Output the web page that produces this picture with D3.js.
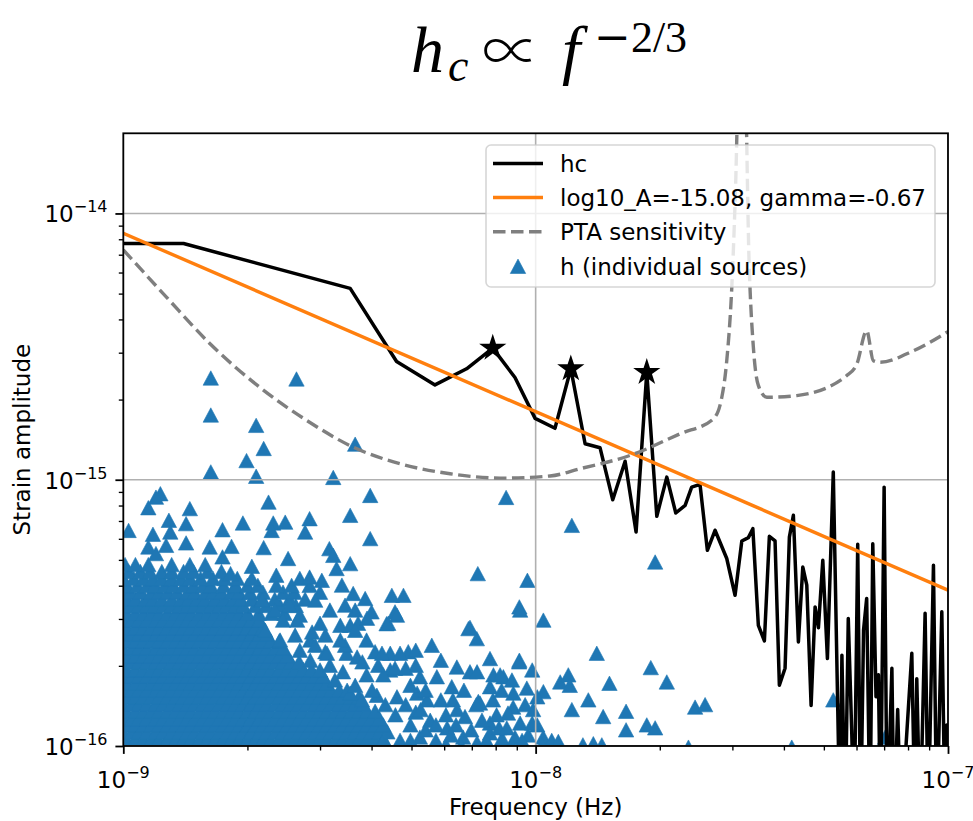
<!DOCTYPE html>
<html>
<head>
<meta charset="utf-8">
<script src="https://cdn.jsdelivr.net/npm/d3@7"></script>
<style>
  body { margin: 0; background: #fff; }
  svg { display: block; }
  text { font-family: "DejaVu Sans", sans-serif; fill: #000; }
</style>
</head>
<body>
<svg id="chart" width="973" height="821"></svg>
<script>
// ---- units used in the tables below ----
const NHZ = 1e-9;    // frequencies are given in nHz
const U16 = 1e-16;   // strains are given in units of 1e-16

// ---- axis ticks ----
const xTickExp = [-9, -8, -7];
const yTickExp = [-16, -15, -14];

// ---- characteristic strain hc: [frequency nHz, strain 1e-16] ----
const hcSeries = [
  [1.0,77.1],[1.40,77.1],[3.55,52.3],[4.60,27.8],[5.70,22.7],[6.80,26.1],[7.87,31.2],[8.91,24.2],
  [9.97,17.0],[11.14,15.6],[12.17,26.1],[13.18,13.65],[14.33,13.18],[15.38,8.41],[16.48,11.74],
  [17.52,6.36],[18.6,25.3],[19.67,7.29],[20.8,10.23],[21.87,7.50],[23.04,8.01],[23.9,9.38],
  [25.04,9.60],[26.09,5.43],[27.23,6.46],[29.07,5.06],[30.45,3.68],[31.62,5.89],[32.8,6.06],
  [33.63,6.55],[34.68,2.84],[35.87,2.48],[36.88,6.13],[38.07,5.89],[39.0,1.69],[40.26,1.96],
  [41.24,6.09],[42.17,7.35],[43.37,2.46],[44.45,4.70],[45.45,4.02],[46.56,1.42],[47.61,3.33],
  [48.5,2.78],[49.7,4.98],[51.0,2.13],[52.7,10.68],[54.7,0.5],[55.3,2.19],[56.3,0.5],[57.3,3.01],
  [58.4,1.15],[59.2,0.5],[60.4,5.72],[61.4,0.5],[62.4,2.72],[63.5,3.58],[64.7,0.5],[65.7,5.75],
  [66.9,1.53],[67.8,1.85],[68.6,0.5],[70.0,9.38],[71.2,0.5],[73.1,1.96],[74.0,0.5],[75.5,1.37],
  [76.9,0.5],[81.7,2.23],[83.2,0.5],[84.0,1.79],[85.6,0.5],[88.0,3.15],[89.6,0.5],[90.5,1.15],
  [92.2,4.77],[93.9,0.5],[96.6,3.19],[98.4,0.5],[99.3,1.20],[101,0.5]
];

// ---- loudest bins, marked with stars ----
const starFreq = [7.87, 12.17, 18.6];
const starStrain = [31.2, 26.1, 25.3];

// ---- PTA sensitivity curve: [frequency nHz, strain 1e-16] ----
const ptaSeries = [
  [1.0,73],[1.274,48.4],[1.623,32.4],[2.146,22.2],[2.785,16.7],[3.613,13.25],[4.69,11.48],
  [6.2,10.53],[8.2,10.14],[10.84,10.33],[12.82,11.0],[16.94,12.34],[22.4,14.88],[26.98,16.93],
  [28.28,20.4],[29.07,28.0],[29.9,52.8],[30.45,108.7],[31.7,1000],[32.98,60.9],[33.73,31.4],
  [34.68,22.6],[36.36,20.4],[42.97,20.7],[56.8,24.6],[60.1,27.2],[63.5,36.3],[65.9,28.0],
  [68.4,27.6],[82.4,30.5],[100,36.0]
];

// ---- power-law fit, as quoted in the legend ----
const fitLog10A = -15.08;
const fitGamma = -0.67;
const fitRange = [1e-9, 1e-7];

// ---- individual sources, crowded low-frequency region: [strain 1e-16, [frequencies nHz]] ----
const denseRows = [
  [1.0,  [1,1.05,1.09,1.14,1.2,1.25,1.31,1.37,1.43,1.49,1.56,1.63,1.71,1.79,1.87,1.95,2.04,2.14,2.23,2.34,2.44,2.55,2.67,2.79,2.92,3.05,3.19,3.34,3.49,3.65,3.82,3.99,4.18,4.37]],
  [1.06, [1.02,1.07,1.12,1.17,1.22,1.28,1.34,1.4,1.46,1.53,1.6,1.67,1.75,1.83,1.91,2,2.09,2.18,2.28,2.39,2.5,2.61,2.73,2.86,2.99,3.12,3.27,3.41,3.57,3.73,3.9,4.08,4.27]],
  [1.13, [1,1.05,1.09,1.14,1.2,1.25,1.31,1.37,1.43,1.49,1.56,1.63,1.71,1.79,1.87,1.95,2.04,2.14,2.23,2.34,2.44,2.55,2.67,2.79,2.92,3.05,3.19,3.34,3.49,3.65,3.82,3.99,4.18,4.37]],
  [1.2,  [1.02,1.07,1.12,1.17,1.22,1.28,1.34,1.4,1.46,1.53,1.6,1.67,1.75,1.83,1.91,2,2.09,2.18,2.28,2.39,2.5,2.61,2.73,2.86,2.99,3.12,3.27,3.41,3.57,3.73,3.9,4.08,4.27]],
  [1.27, [1,1.05,1.09,1.14,1.2,1.25,1.31,1.37,1.43,1.49,1.56,1.63,1.71,1.79,1.87,1.95,2.04,2.14,2.23,2.34,2.44,2.55,2.67,2.79,2.92,3.05,3.19,3.34,3.49,3.65,3.82,3.99,4.18]],
  [1.35, [1.02,1.07,1.12,1.17,1.22,1.28,1.34,1.4,1.46,1.53,1.6,1.67,1.75,1.83,1.91,2,2.09,2.18,2.28,2.39,2.5,2.61,2.73,2.86,2.99,3.12,3.27,3.41,3.57,3.73,3.9,4.08]],
  [1.44, [1,1.05,1.09,1.14,1.2,1.25,1.31,1.37,1.43,1.49,1.56,1.63,1.71,1.79,1.87,1.95,2.04,2.14,2.23,2.34,2.44,2.55,2.67,2.79,2.92,3.05,3.19,3.34,3.49,3.65,3.82]],
  [1.53, [1.02,1.07,1.12,1.17,1.22,1.28,1.34,1.4,1.46,1.53,1.6,1.67,1.75,1.83,1.91,2,2.09,2.18,2.28,2.39,2.5,2.61,2.73,2.86,2.99,3.12,3.27,3.41,3.57,3.73]],
  [1.62, [1,1.05,1.09,1.14,1.2,1.25,1.31,1.37,1.43,1.49,1.56,1.63,1.71,1.79,1.87,1.95,2.04,2.14,2.23,2.34,2.44,2.55,2.67,2.79,2.92,3.05,3.19,3.34,3.49]],
  [1.72, [1.02,1.07,1.12,1.17,1.22,1.28,1.34,1.4,1.46,1.53,1.6,1.67,1.75,1.83,1.91,2,2.09,2.18,2.28,2.39,2.5,2.61,2.73,2.86,2.99,3.12]],
  [1.83, [1,1.05,1.09,1.14,1.2,1.25,1.31,1.37,1.43,1.49,1.56,1.63,1.71,1.79,1.87,1.95,2.04,2.14,2.23,2.34,2.44,2.55,2.67,2.79,2.92,3.05]],
  [1.94, [1.02,1.07,1.12,1.17,1.22,1.28,1.34,1.4,1.46,1.53,1.6,1.67,1.75,1.83,1.91,2,2.09,2.18,2.28,2.39,2.5,2.61,2.73,2.86]],
  [2.07, [1,1.05,1.09,1.14,1.2,1.25,1.31,1.37,1.43,1.49,1.56,1.63,1.71,1.79,1.87,1.95,2.04,2.14,2.23,2.34,2.44,2.55,2.67]],
  [2.19, [1.02,1.07,1.12,1.17,1.22,1.28,1.34,1.4,1.46,1.53,1.6,1.67,1.75,1.83,1.91,2,2.09,2.18,2.28,2.39,2.5]],
  [2.33, [1,1.05,1.09,1.14,1.2,1.25,1.31,1.37,1.43,1.49,1.56,1.63,1.71,1.79,1.87,1.95,2.04,2.14,2.23,2.34,2.44]],
  [2.48, [1.02,1.07,1.12,1.17,1.22,1.28,1.34,1.4,1.46,1.53,1.6,1.67,1.75,1.83,1.91,2,2.09,2.18,2.28,2.39]],
  [2.63, [1,1.05,1.09,1.14,1.2,1.25,1.31,1.37,1.43,1.49,1.56,1.63,1.71,1.79,1.87,1.95,2.04,2.14,2.23]],
  [2.79, [1.02,1.07,1.12,1.17,1.22,1.28,1.34,1.4,1.46,1.53,1.6,1.67,1.75,1.83,1.91,2,2.09,2.18]],
  [2.97, [1,1.05,1.09,1.14,1.2,1.25,1.31,1.37,1.43,1.49,1.56,1.63,1.71,1.79,1.87,1.95,2.04,2.14]],
  [3.15, [1.02,1.07,1.12,1.17,1.22,1.28,1.34,1.4,1.46,1.53,1.6,1.67,1.75,1.83,1.91,2,2.13,2.29,2.46]],
  [3.37, [1,1.04,1.09,1.14,1.19,1.25,1.31,1.37,1.43,1.49,1.56,1.63,1.71,1.78,1.87,1.95,2.09,2.22,2.4,2.62]],
  [3.56, [1.02,1.07,1.13,1.18,1.24,1.31,1.38,1.44,1.51,1.58,1.67,1.76,1.85,1.93,2.05,2.17,2.33,2.53,2.76]],
  [3.78, [1,1.04,1.1,1.17,1.22,1.28,1.35,1.43,1.49,1.58,1.65,1.73,1.83,1.91,2.03,2.18,2.44,2.6,3.0]],
  [4.01, [1.02,1.08,1.14,1.19,1.26,1.32,1.4,1.48,1.56,1.63,1.75,1.87,2,2.12,2.35,2.56,2.83]],
  [4.26, [1,1.06,1.12,1.18,1.24,1.31,1.38,1.45,1.54,1.65,1.76,1.89,2.05,2.68]],
  [4.52, [1.03,1.1,1.16,1.24,1.31,1.4,1.48,1.6,1.73]],
  [4.8,  [1.01,1.07,1.15,1.31,1.45,1.58]]
];

// ---- individual sources elsewhere: [frequency nHz, strain 1e-16] ----
const singleSources = [
  [1.63,24.1],[2.63,23.9],[1.63,17.5],[2.1,16.0],[2.19,13.1],[1.99,11.8],[1.63,10.7],[2.1,10.3],[3.23,10.2],[3.65,13.6],
  [1.23,8.86],[1.2,8.6],[1.15,7.85],[1.45,7.79],[2.25,8.24],[3.97,8.73],[8.48,8.58],
  [1.03,6.45],[1.29,7.04],[1.42,6.84],[1.74,6.49],[1.95,6.88],[2.31,6.88],[2.47,6.93],[2.83,7.14],[3.55,7.35],
  [1.18,6.24],[1.3,6.36],[2.76,6.36],[2.29,6.45],[3.97,6.01],
  [1.15,5.59],[1.27,5.67],[1.42,5.79],[1.62,5.59],[1.83,5.62],[2.19,5.56],[3.16,5.51],
  [1.2,5.28],[1.74,5.13],[2.51,5.06],[3.23,5.2],[3.55,4.84],[2.05,4.73],[1.82,4.44],[2.35,4.38],[2.83,4.31],
  [3.03,4.19],[3.29,4.64],[3.39,4.02],[3.61,3.74],[4.48,3.68],[4.78,3.68],[7.24,4.44],[9.55,4.19],[9.13,3.33],
  [10.44,2.97],[4.0,3.19],[4.56,3.19],[4.35,2.88],[6.87,2.76],[7.2,2.53],[5.6,2.39],[12.24,6.74],[19.49,4.91],
  [2.17,3.53],[2.33,3.24],[2.53,3.38],[2.68,3.1],[2.92,3.53],[3.17,3.24],[3.36,2.84],[2.84,2.5],[2.4,2.5],
  [2.61,2.61],[3.09,2.61],[3.65,3.24],[3.45,3.38],[3.86,3.58],
  [3.09,2.26],[3.48,2.23],[3.89,2.5],[4.08,2.26],[4.44,2.23],[4.91,2.26],[7.75,2.13],[9.13,2.1],[6.44,1.98],
  [6.93,1.9],[7.9,1.85],[8.35,1.82],[5.24,1.82],[5.76,1.82],[3.89,1.85],[4.44,1.93],[6.26,1.67],[7.75,1.67],
  [9.52,1.65],[7.26,1.47],[8.83,1.58],
  [3.55,2.84],[3.71,2.89],[3.9,3.02],[4.39,2.89],[4.61,3.1],[2.87,2.68],[2.21,2.72],[2.44,2.97],[2.64,2.97],
  [3.0,2.89],[6.93,2.79],[9.17,3.24],[3.12,2.23],[3.69,2.16],[4.24,2.23],[4.69,2.23],[7.21,1.9],[8.2,1.85],
  [9.12,2.07],[3.41,1.9],[4.27,1.85],[4.56,1.96],
  [3.55,1.58],[4.12,1.55],[4.61,1.53],[5.16,1.58],[5.45,1.49],[6.3,1.49],[7.33,1.45],[7.88,1.49],[8.82,1.4],
  [9.43,1.43],[9.86,1.37],[5.55,1.25],[6.45,1.37],[6.74,1.29],[7.75,1.22],[8.57,1.33],[9.17,1.22],[6.1,1.17],
  [6.67,1.08],[7.75,1.12],[8.29,1.07],[8.91,1.08],[9.59,1.1],[10.43,1.08],[5.24,1.08],[4.69,1.05],[4.24,1.03],
  [7.21,1.03],
  [2.84,2.1],[3.0,1.93],[2.68,2.29],[2.92,2.39],[3.17,2.01],[3.26,1.77],[3.65,1.69],[3.79,1.49],[4.01,1.62],
  [4.32,1.43],[4.57,1.31],[4.84,1.43],[4.97,1.2],[5.12,1.34],[5.41,1.15],[5.73,1.05],[6.06,1.01],[6.6,1.0],
  [6.98,1.15],[7.41,1.25],[8.15,1.17],[8.76,1.01],[10.38,1.01],[10.09,1.2],
  [5.41,1.62],[5.89,1.49],[6.06,1.31],[6.41,1.2],[7.18,1.43],[7.6,1.05],[8.04,1.31],[8.51,1.17],[9.27,1.05],
  [8.27,1.62],[8.76,1.77],[9.81,1.93],[6.7,1.62],[5.89,2.1],[5.12,2.01],[4.97,1.69],[5.26,1.37],[5.73,1.2],
  [6.23,1.1],[4.97,1.05],[3.45,2.39],[3.8,2.07],[4.15,2.01],[4.84,1.96],[5.12,2.29],[3.36,2.5],[3.65,2.72],
  [14.07,2.23],[19.02,1.97],[20.8,1.74],[11.47,1.74],[12.0,1.85],[12.1,1.69],[15.1,1.72],[10.44,1.6],[10.09,1.53],
  [13.42,1.49],[12.24,1.37],[14.58,1.29],[16.57,1.35],[24.36,1.4],[25.76,1.43],[18.6,1.2],[19.49,1.17],
  [16.57,1.15],[10.94,1.05],[11.35,1.04],[13.8,1.02],[13.02,1.01],[14.47,1.01],[23.47,0.99],[41.8,0.99],
  [52.7,1.49],[70.4,1.08],[9.81,1.22]
];

// ---- legend entries ----
const legendLabels = ["hc", "log10_A=-15.08, gamma=-0.67", "PTA sensitivity", "h (individual sources)"];

// ---- colours ----
const C = { hc: "#000000", fit: "#ff7f0e", pta: "#7f7f7f", src: "#1f77b4", grid: "#b0b0b0" };

// ================= drawing =================
const plot = { left: 123.3, right: 948, top: 133.3, bottom: 746 };
const x = d3.scaleLog().domain([1e-9, 1e-7]).range([plot.left, plot.right]);
const y = d3.scaleLog().domain([1e-16, 2e-14]).range([plot.bottom, plot.top]);

const svg = d3.select("#chart");
svg.append("rect").attr("width", 973).attr("height", 821).attr("fill", "#fff");

svg.append("defs").append("clipPath").attr("id", "plotClip").append("rect")
  .attr("x", plot.left).attr("y", plot.top)
  .attr("width", plot.right - plot.left).attr("height", plot.bottom - plot.top);

const area = svg.append("g").attr("clip-path", "url(#plotClip)");

// triangle marker centred on its bounding box
const triPath = "M0,-7.2L7.7,7.2L-7.7,7.2Z";

const sources = [];
denseRows.forEach(([h, fs]) => fs.forEach(f => sources.push([f, h])));
singleSources.forEach(p => sources.push(p));

area.append("g").selectAll("path").data(sources).join("path")
  .attr("d", triPath)
  .attr("transform", d => `translate(${x(d[0] * NHZ)},${y(d[1] * U16)})`)
  .attr("fill", C.src)
  .attr("stroke", C.src).attr("stroke-width", 0.6);

// grid on major ticks
const xMajor = xTickExp.map(e => Math.pow(10, e));
const yMajor = yTickExp.map(e => Math.pow(10, e));
const grid = area.append("g").attr("stroke", C.grid).attr("stroke-width", 1.6);
grid.selectAll(".gx").data(xMajor).join("line")
  .attr("x1", d => x(d)).attr("x2", d => x(d)).attr("y1", plot.top).attr("y2", plot.bottom);
grid.selectAll(".gy").data(yMajor).join("line")
  .attr("y1", d => y(d)).attr("y2", d => y(d)).attr("x1", plot.left).attr("x2", plot.right);

// lines
const lineLin = d3.line().x(d => x(d[0] * NHZ)).y(d => y(d[1] * U16));
area.append("path").datum(hcSeries).attr("d", lineLin)
  .attr("fill", "none").attr("stroke", C.hc).attr("stroke-width", 3.5)
  .attr("stroke-linejoin", "round");

const fRef = 1 / (365.25 * 86400);
const fitSeries = fitRange.map(f => [f, Math.pow(10, fitLog10A) * Math.pow(f / fRef, fitGamma)]);
area.append("path").datum(fitSeries)
  .attr("d", d3.line().x(d => x(d[0])).y(d => y(d[1])))
  .attr("fill", "none").attr("stroke", C.fit).attr("stroke-width", 3.4);

area.append("path").datum(ptaSeries)
  .attr("d", d3.line().curve(d3.curveMonotoneX).x(d => x(d[0] * NHZ)).y(d => y(d[1] * U16)))
  .attr("fill", "none").attr("stroke", C.pta).attr("stroke-width", 3.4)
  .attr("stroke-dasharray", "12.5,5.5");

// stars
const star = d3.symbol().type(d3.symbolStar).size(230);
area.append("g").selectAll("path").data(starFreq.map((f, i) => [f, starStrain[i]])).join("path")
  .attr("d", star)
  .attr("transform", d => `translate(${x(d[0] * NHZ)},${y(d[1] * U16)})`)
  .attr("fill", "#000");

// spines
svg.append("rect")
  .attr("x", plot.left).attr("y", plot.top)
  .attr("width", plot.right - plot.left).attr("height", plot.bottom - plot.top)
  .attr("fill", "none").attr("stroke", "#000").attr("stroke-width", 1.8);

// ticks
const minorOf = (lo, hi) => {
  const out = [];
  for (let e = lo; e < hi; e++) for (let k = 2; k <= 9; k++) out.push(k * Math.pow(10, e));
  return out;
};
const xMinor = minorOf(-9, -7);
const yMinor = minorOf(-16, -14);

function styleAxis(g, w) {
  g.select(".domain").remove();
  g.selectAll(".tick line").attr("stroke", "#000").attr("stroke-width", w);
  g.selectAll(".tick text").remove();
}
svg.append("g").attr("transform", `translate(0,${plot.bottom})`)
  .call(d3.axisBottom(x).tickValues(xMajor).tickSize(7.9).tickFormat(""))
  .call(g => styleAxis(g, 1.8));
svg.append("g").attr("transform", `translate(0,${plot.bottom})`)
  .call(d3.axisBottom(x).tickValues(xMinor).tickSize(4.5).tickFormat(""))
  .call(g => styleAxis(g, 1.35));
svg.append("g").attr("transform", `translate(${plot.left},0)`)
  .call(d3.axisLeft(y).tickValues(yMajor).tickSize(7.9).tickFormat(""))
  .call(g => styleAxis(g, 1.8));
svg.append("g").attr("transform", `translate(${plot.left},0)`)
  .call(d3.axisLeft(y).tickValues(yMinor).tickSize(4.5).tickFormat(""))
  .call(g => styleAxis(g, 1.35));

// tick labels: 10 with a superscript exponent
const expText = e => (e < 0 ? "\u2212" : "") + Math.abs(e);
xTickExp.forEach(e => {
  const t = svg.append("text").attr("x", x(Math.pow(10, e))).attr("y", 788)
    .attr("text-anchor", "middle").attr("font-size", 23);
  t.append("tspan").text("10");
  t.append("tspan").attr("dy", -10).attr("font-size", 16).text(expText(e));
});
yTickExp.forEach(e => {
  const t = svg.append("text").attr("x", 107.5).attr("y", y(Math.pow(10, e)) + 9)
    .attr("text-anchor", "end").attr("font-size", 23);
  t.append("tspan").text("10");
  t.append("tspan").attr("dy", -10).attr("font-size", 16).text(expText(e));
});

// axis titles
svg.append("text").attr("x", (plot.left + plot.right) / 2).attr("y", 815)
  .attr("text-anchor", "middle").attr("font-size", 23).text("Frequency (Hz)");
svg.append("text").attr("transform", `translate(30,${(plot.top + plot.bottom) / 2}) rotate(-90)`)
  .attr("text-anchor", "middle").attr("font-size", 23).text("Strain amplitude");

// title: h_c ∝ f^{-2/3}
const title = svg.append("g");
title.append("text").attr("x", 411).attr("y", 72)
  .style("font-family", "'Liberation Serif', serif").style("font-style", "italic")
  .attr("font-size", 66).text("h");
title.append("text").attr("x", 448).attr("y", 81)
  .style("font-family", "'Liberation Serif', serif").style("font-style", "italic")
  .attr("font-size", 46).text("c");
title.append("text").attr("x", 511).attr("y", 72).attr("text-anchor", "middle")
  .style("font-family", "'Noto Sans CJK JP', 'DejaVu Serif', serif").style("font-weight", 300)
  .attr("font-size", 58).text("\u221D");
title.append("text").attr("x", 562).attr("y", 72)
  .style("font-family", "'Liberation Serif', serif").style("font-style", "italic")
  .attr("font-size", 66).text("f");
const sup = title.append("text").attr("x", 594).attr("y", 52)
  .style("font-family", "'Liberation Serif', serif").attr("font-size", 44);
sup.append("tspan").style("font-family", "'DejaVu Serif', serif").text("\u2212");
sup.append("tspan").text("2/3");

// legend
const lg = svg.append("g");
lg.append("rect").attr("x", 486).attr("y", 145).attr("width", 449).attr("height", 142).attr("rx", 5)
  .attr("fill", "rgba(255,255,255,0.8)").attr("stroke", "rgba(204,204,204,0.8)").attr("stroke-width", 1.6);
const rowY = [163.5, 197.5, 231.8, 266.3];
const hx0 = 493, hx1 = 543;
lg.append("line").attr("x1", hx0).attr("x2", hx1).attr("y1", rowY[0]).attr("y2", rowY[0])
  .attr("stroke", C.hc).attr("stroke-width", 3.5);
lg.append("line").attr("x1", hx0).attr("x2", hx1).attr("y1", rowY[1]).attr("y2", rowY[1])
  .attr("stroke", C.fit).attr("stroke-width", 3.4);
lg.append("line").attr("x1", hx0).attr("x2", hx1).attr("y1", rowY[2]).attr("y2", rowY[2])
  .attr("stroke", C.pta).attr("stroke-width", 3.4).attr("stroke-dasharray", "12.5,5.5");
lg.append("path").attr("d", triPath).attr("transform", `translate(${(hx0 + hx1) / 2},${rowY[3]})`)
  .attr("fill", C.src).attr("stroke", C.src).attr("stroke-width", 0.6);
legendLabels.forEach((s, i) => {
  lg.append("text").attr("x", 560).attr("y", rowY[i] + 8.5).attr("font-size", 23).text(s);
});
</script>
</body>
</html>
